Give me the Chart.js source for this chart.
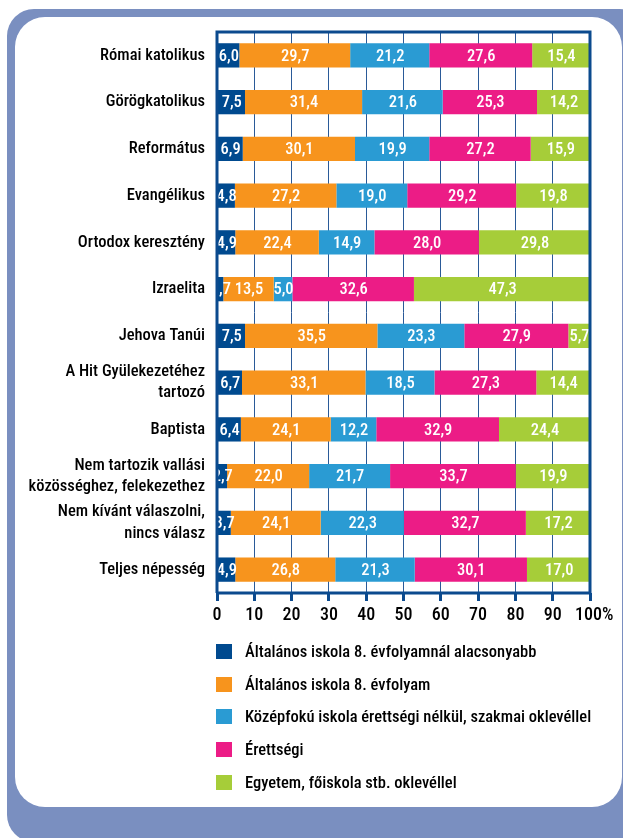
<!DOCTYPE html>
<html lang="hu">
<head>
<meta charset="utf-8">
<title>Iskolai végzettség vallás, felekezet szerint</title>
<script src="https://cdn.jsdelivr.net/npm/chart.js@4.4.1/dist/chart.umd.min.js"></script>
<style>
  html, body { margin: 0; padding: 0; background: #fff; }
  body { width: 623px; height: 838px; position: relative; overflow: hidden; }
  .frame { position: absolute; left: 7px; top: 9px; width: 640px; height: 833px; background: #7a8fc0; border-radius: 27px; }
  .panel { position: absolute; left: 15px; top: 17px; width: 607px; height: 790px; background: #fff; border-radius: 30px; }
  #chart { position: absolute; left: 0; top: 0; }
  #legend { position: absolute; left: 216px; top: 635px; font-family: "Roboto Condensed", "DejaVu Sans Condensed", sans-serif; font-size: 16.5px; font-weight: 500; color: #000; }
  #legend .item { display: flex; align-items: center; height: 32.7px; white-space: nowrap; }
  #legend .swatch { display: inline-block; width: 16px; height: 15px; margin-right: 13px; }
</style>
</head>
<body>
<div class="frame"></div>
<div class="panel"></div>
<canvas id="chart" width="623" height="640"></canvas>
<div id="legend"></div>
<script>
// categories (top to bottom)
const religions = [
    'Római katolikus',
    'Görögkatolikus',
    'Református',
    'Evangélikus',
    'Ortodox keresztény',
    'Izraelita',
    'Jehova Tanúi',
    ['A Hit Gyülekezetéhez', 'tartozó'],
    'Baptista',
    ['Nem tartozik vallási', 'közösséghez, felekezethez'],
    ['Nem kívánt válaszolni,', 'nincs válasz'],
    'Teljes népesség',
];

// series, % of each group
const belowGrade8 = [6.0, 7.5, 6.9, 4.8, 4.9, 1.7, 7.5, 6.7, 6.4, 2.7, 3.7, 4.9];
const grade8 = [29.7, 31.4, 30.1, 27.2, 22.4, 13.5, 35.5, 33.1, 24.1, 22.0, 24.1, 26.8];
const vocational = [21.2, 21.6, 19.9, 19.0, 14.9, 5.0, 23.3, 18.5, 12.2, 21.7, 22.3, 21.3];
const maturity = [27.6, 25.3, 27.2, 29.2, 28.0, 32.6, 27.9, 27.3, 32.9, 33.7, 32.7, 30.1];
const university = [15.4, 14.2, 15.9, 19.8, 29.8, 47.3, 5.7, 14.4, 24.4, 19.9, 17.2, 17.0];

const seriesNames = [
    'Általános iskola 8. évfolyamnál alacsonyabb',
    'Általános iskola 8. évfolyam',
    'Középfokú iskola érettségi nélkül, szakmai oklevéllel',
    'Érettségi',
    'Egyetem, főiskola stb. oklevéllel',
];

// x axis ticks
const tickValues = [0, 10, 20, 30, 40, 50, 60, 70, 80, 90, 100];

const COLORS = ['#004a8f', '#f7941d', '#2a9bd3', '#ec1c86', '#a6cd39'];
const FRAME = '#0b4a8e';
const FONT_FAMILY = '"Roboto Condensed", "DejaVu Sans Condensed", sans-serif';

// white value labels centred in each segment, clipped to the plot area
const segmentLabels = {
    id: 'segmentLabels',
    afterDatasetsDraw(chart) {
        const { ctx, chartArea } = chart;
        ctx.save();
        ctx.beginPath();
        ctx.rect(chartArea.left, chartArea.top, chartArea.width, chartArea.height);
        ctx.clip();
        ctx.fillStyle = '#fff';
        ctx.font = '500 16.5px ' + FONT_FAMILY;
        ctx.textAlign = 'center';
        ctx.textBaseline = 'middle';
        chart.data.datasets.forEach((ds, i) => {
            chart.getDatasetMeta(i).data.forEach((bar, j) => {
                const { x, y, base } = bar.getProps(['x', 'y', 'base'], true);
                ctx.fillText(ds.data[j].toFixed(1).replace('.', ','), (x + base) / 2 + 0.5, y + 1);
            });
        });
        ctx.restore();
    },
};

// dark blue frame round the plot
const plotFrame = {
    id: 'plotFrame',
    afterDraw(chart) {
        const { ctx, chartArea: a } = chart;
        ctx.save();
        ctx.strokeStyle = FRAME;
        ctx.lineWidth = 3;
        ctx.beginPath();
        ctx.moveTo(a.left, a.bottom);
        ctx.lineTo(a.left, a.top);
        ctx.lineTo(a.right, a.top);
        ctx.lineTo(a.right, a.bottom);
        ctx.lineTo(a.left, a.bottom);
        ctx.stroke();
        ctx.restore();
    },
};

// legend as a vertical html list
const htmlLegend = {
    id: 'htmlLegend',
    afterUpdate(chart) {
        const box = document.getElementById('legend');
        box.innerHTML = '';
        chart.data.datasets.forEach(ds => {
            const row = document.createElement('div');
            row.className = 'item';
            const sw = document.createElement('span');
            sw.className = 'swatch';
            sw.style.background = ds.backgroundColor;
            const txt = document.createElement('span');
            txt.textContent = ds.label;
            row.appendChild(sw);
            row.appendChild(txt);
            box.appendChild(row);
        });
    },
};

const seriesData = [belowGrade8, grade8, vocational, maturity, university];

new Chart(document.getElementById('chart'), {
    type: 'bar',
    data: {
        labels: religions,
        datasets: seriesData.map((data, i) => ({
            label: seriesNames[i],
            data,
            backgroundColor: COLORS[i],
            borderWidth: 0,
            barPercentage: 0.52,
            categoryPercentage: 1,
        })),
    },
    options: {
        indexAxis: 'y',
        responsive: false,
        animation: false,
        layout: { padding: { top: 32, right: 33, left: 0, bottom: 0 } },
        plugins: {
            legend: { display: false },
            tooltip: { enabled: false },
        },
        scales: {
            x: {
                stacked: true,
                min: 0,
                max: 100,
                afterBuildTicks: scale => { scale.ticks = tickValues.map(v => ({ value: v })); },
                afterFit: scale => { scale.height = 47; },
                grid: {
                    color: '#2a5a98',
                    lineWidth: 1,
                    drawTicks: true,
                    tickLength: 8,
                    tickWidth: 3,
                    tickColor: FRAME,
                },
                border: { display: false },
                ticks: {
                    color: '#000',
                    padding: 4,
                    maxRotation: 0,
                    autoSkip: false,
                    font: { family: FONT_FAMILY, size: 18, weight: '500' },
                    callback: v => (v === 100 ? '  100%' : String(v)),
                },
            },
            y: {
                stacked: true,
                afterFit: scale => { scale.width = 217; },
                grid: { display: false, drawTicks: false },
                border: { display: false },
                ticks: {
                    color: '#000',
                    padding: 12,
                    font: { family: FONT_FAMILY, size: 16.5, weight: '500', lineHeight: 1.3 },
                },
            },
        },
    },
    plugins: [segmentLabels, plotFrame, htmlLegend],
});
</script>
</body>
</html>
